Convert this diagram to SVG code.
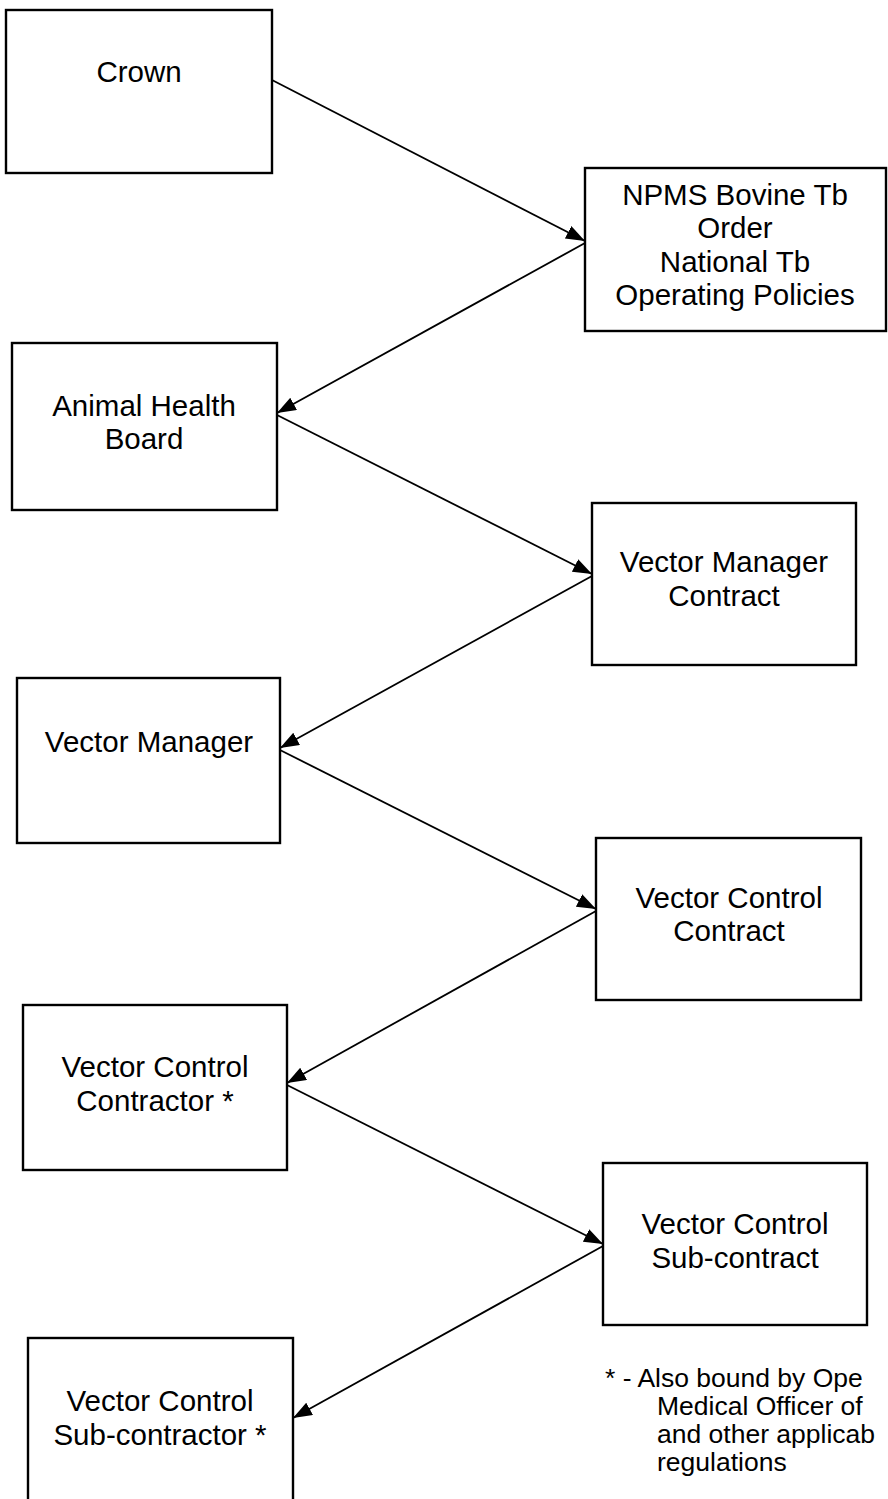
<svg xmlns="http://www.w3.org/2000/svg" width="888" height="1499" viewBox="0 0 888 1499">
<style>
.box{fill:#fff;stroke:#000;stroke-width:2.4}
.t{font-family:"Liberation Sans",Arial,sans-serif;font-size:29.5px;fill:#000;text-anchor:middle}
.f{font-family:"Liberation Sans",Arial,sans-serif;font-size:26.5px;fill:#000}
.c{fill:none;stroke:#000;stroke-width:1.8;marker-end:url(#ah)}
</style>
<defs>
<marker id="ah" markerUnits="userSpaceOnUse" markerWidth="22" markerHeight="16" refX="19" refY="7" orient="auto">
<path d="M0,0 L19,7 L0,14 Z" fill="#000"/>
</marker>
</defs>
<rect width="888" height="1499" fill="#fff"/>
<g id="crown"><rect class="box" x="6" y="10" width="266" height="163"/><text class="t" x="139" y="82">Crown</text></g>
<g id="npms"><rect class="box" x="585" y="168" width="301" height="163"/><text class="t" x="735" y="205">NPMS Bovine Tb</text><text class="t" x="735" y="238">Order</text><text class="t" x="735" y="272">National Tb</text><text class="t" x="735" y="305">Operating Policies</text></g>
<g id="ahb"><rect class="box" x="12" y="343" width="265" height="167"/><text class="t" x="144" y="416">Animal Health</text><text class="t" x="144" y="449">Board</text></g>
<g id="vmc"><rect class="box" x="592" y="503" width="264" height="162"/><text class="t" x="724" y="572">Vector Manager</text><text class="t" x="724" y="606">Contract</text></g>
<g id="vm"><rect class="box" x="17" y="678" width="263" height="165"/><text class="t" x="149" y="752">Vector Manager</text></g>
<g id="vcc"><rect class="box" x="596" y="838" width="265" height="162"/><text class="t" x="729" y="908">Vector Control</text><text class="t" x="729" y="941">Contract</text></g>
<g id="vcctor"><rect class="box" x="23" y="1005" width="264" height="165"/><text class="t" x="155" y="1077">Vector Control</text><text class="t" x="155" y="1111">Contractor *</text></g>
<g id="vcsub"><rect class="box" x="603" y="1163" width="264" height="162"/><text class="t" x="735" y="1234">Vector Control</text><text class="t" x="735" y="1268">Sub-contract</text></g>
<g id="vcsubtor"><rect class="box" x="28" y="1338" width="265" height="175"/><text class="t" x="160" y="1411">Vector Control</text><text class="t" x="160" y="1445">Sub-contractor *</text></g>
<g id="note"><text class="f" x="605" y="1387">* - Also bound by Ope</text><text class="f" x="657" y="1415">Medical Officer of</text><text class="f" x="657" y="1443">and other applicab</text><text class="f" x="657" y="1471">regulations</text></g>
<g id="connectors">
<line class="c" x1="272" y1="80" x2="585" y2="241"/>
<line class="c" x1="585" y1="243" x2="277" y2="413"/>
<line class="c" x1="277" y1="415" x2="592" y2="574"/>
<line class="c" x1="592" y1="576" x2="280" y2="748"/>
<line class="c" x1="280" y1="750" x2="596" y2="909"/>
<line class="c" x1="596" y1="911" x2="287" y2="1083"/>
<line class="c" x1="287" y1="1085" x2="603" y2="1244"/>
<line class="c" x1="603" y1="1246" x2="293" y2="1418"/>
</g>
</svg>
